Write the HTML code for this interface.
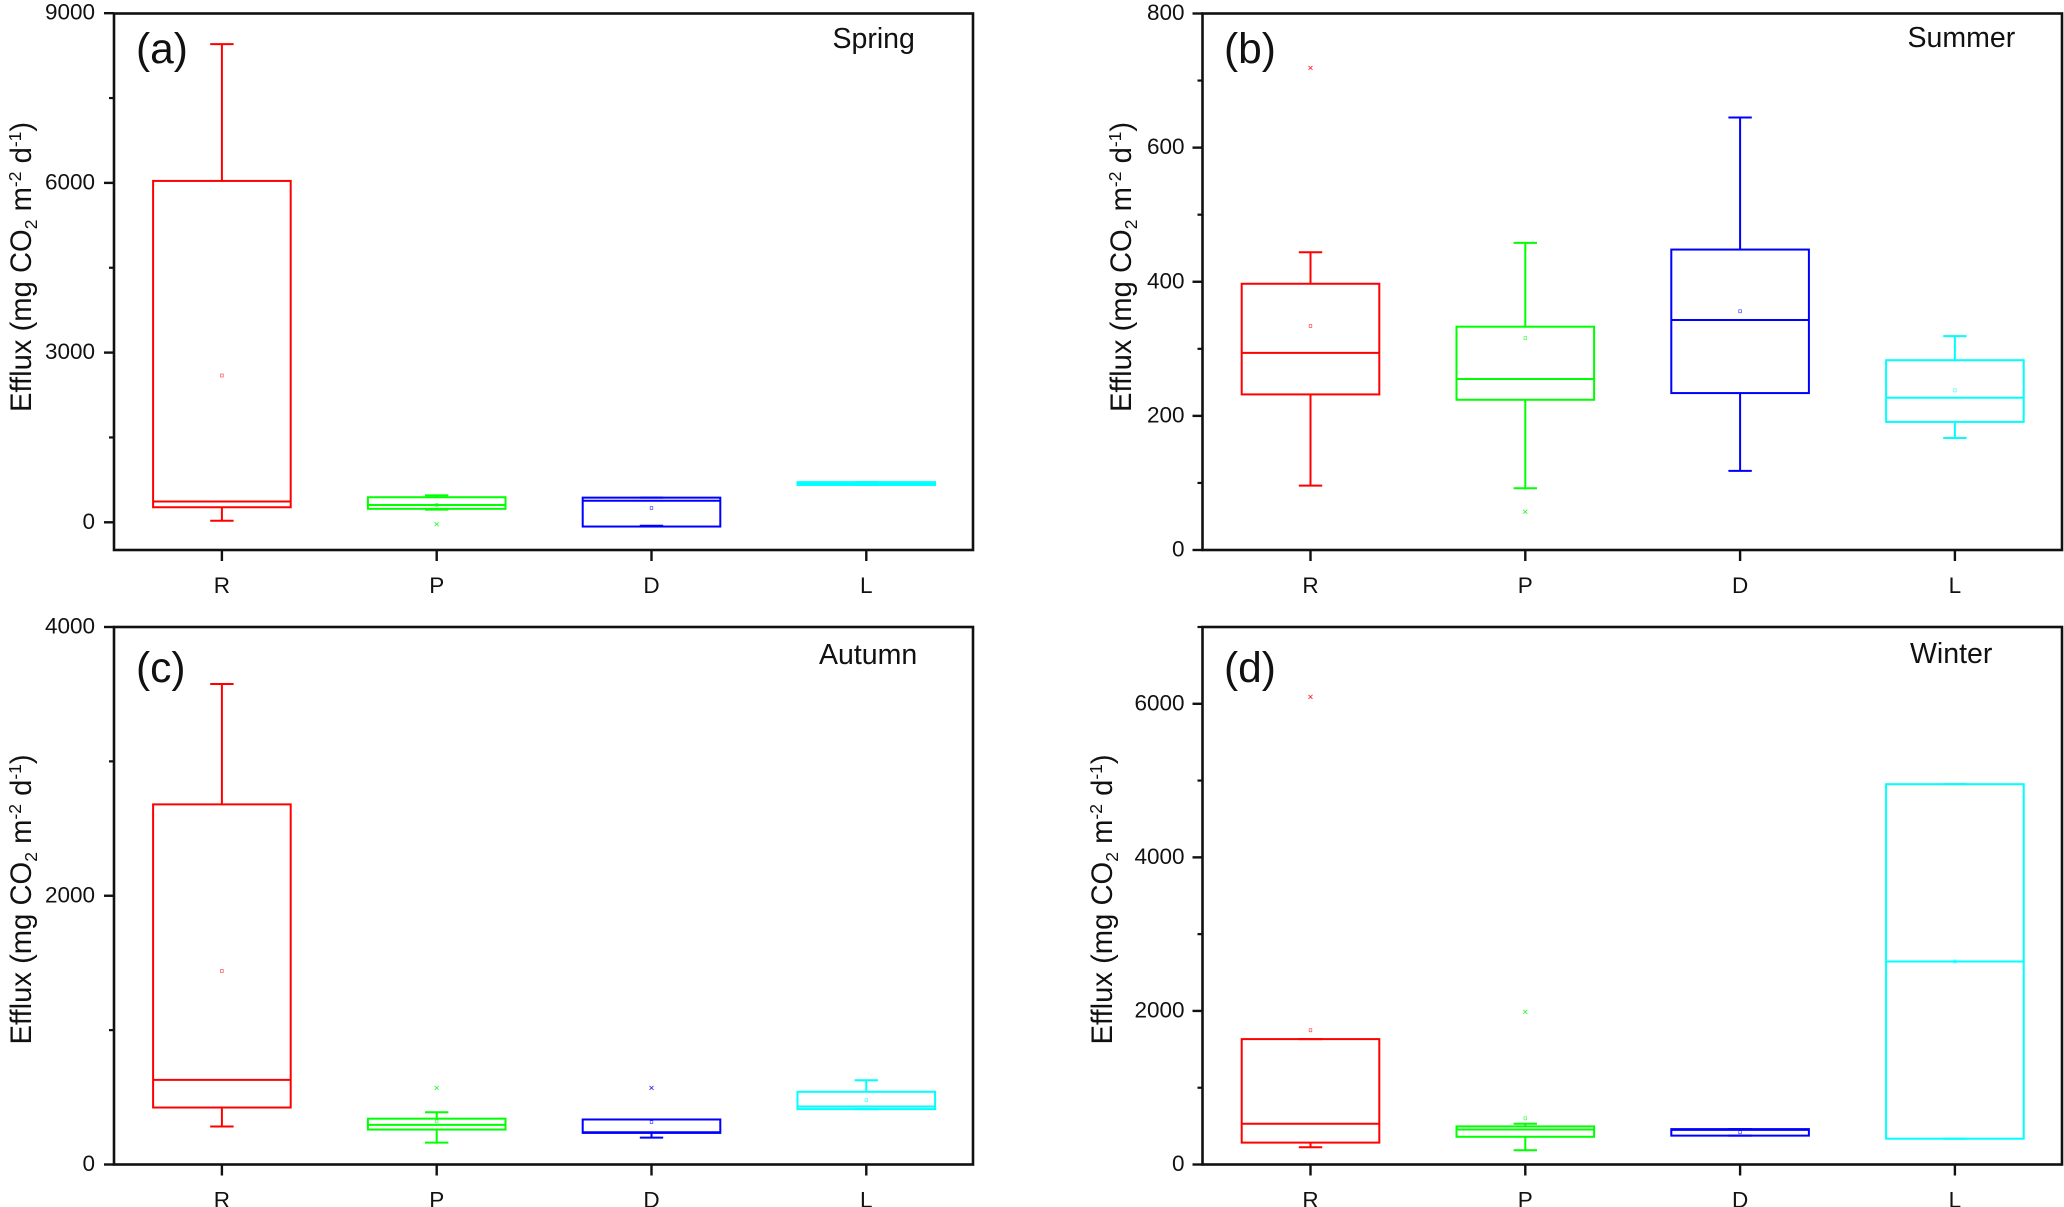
<!DOCTYPE html>
<html lang="en">
<head>
<meta charset="utf-8">
<title>Seasonal CO2 efflux box plots</title>
<style>
html,body{margin:0;padding:0;background:#fff;width:2064px;height:1207px;overflow:hidden}
svg{display:block;font-family:"Liberation Sans",Arial,sans-serif;fill:#111}
.ylab{font-size:29.2px}
.sm{font-size:17.5px}
.season{font-size:28.5px}
.letter{font-size:42.5px}
</style>
</head>
<body>
<svg id="chart" xmlns="http://www.w3.org/2000/svg" width="2064" height="1207" viewBox="0 0 2064 1207">
  <rect x="0" y="0" width="2064" height="1207" fill="#fff"/>

  <text class="letter" x="136" y="63">(a)</text>
  <text class="letter" x="1224" y="63">(b)</text>
  <text class="letter" x="136" y="682">(c)</text>
  <text class="letter" x="1224" y="682">(d)</text>

  <text class="season" x="832.5" y="48">Spring</text>
  <text class="season" x="1907.5" y="47">Summer</text>
  <text class="season" x="819" y="664">Autumn</text>
  <text class="season" x="1910" y="663">Winter</text>

  <text class="ylab" transform="translate(31,412) rotate(-90)">Efflux (mg CO<tspan class="sm" dy="6">2</tspan><tspan dy="-6"> m</tspan><tspan class="sm" dy="-10">-2</tspan><tspan dy="10"> d</tspan><tspan class="sm" dy="-10">-1</tspan><tspan dy="10">)</tspan></text>
  <text class="ylab" transform="translate(1131,412) rotate(-90)">Efflux (mg CO<tspan class="sm" dy="6">2</tspan><tspan dy="-6"> m</tspan><tspan class="sm" dy="-10">-2</tspan><tspan dy="10"> d</tspan><tspan class="sm" dy="-10">-1</tspan><tspan dy="10">)</tspan></text>
  <text class="ylab" transform="translate(31,1044.5) rotate(-90)">Efflux (mg CO<tspan class="sm" dy="6">2</tspan><tspan dy="-6"> m</tspan><tspan class="sm" dy="-10">-2</tspan><tspan dy="10"> d</tspan><tspan class="sm" dy="-10">-1</tspan><tspan dy="10">)</tspan></text>
  <text class="ylab" transform="translate(1112,1044.5) rotate(-90)">Efflux (mg CO<tspan class="sm" dy="6">2</tspan><tspan dy="-6"> m</tspan><tspan class="sm" dy="-10">-2</tspan><tspan dy="10"> d</tspan><tspan class="sm" dy="-10">-1</tspan><tspan dy="10">)</tspan></text>
</svg>

<script>
// Shared category labels
const categories = ['R', 'P', 'D', 'L'];

// Spring (a)
const springTicks = [0, 3000, 6000, 9000];
const springMinor = [1500, 4500, 7500];
const springHigh = [8454, 477, 436, 710];
const springQ3 = [6035, 443, 436, 710];
const springMedian = [368, 306, 381, 685];
const springQ1 = [266, 238, -75, 660];
const springLow = [27, 225, -61, 660];
const springMean = [2595, 306, 252, 685];
const springOutliers = [[], [-34], [], []];

// Summer (b)
const summerTicks = [0, 200, 400, 600, 800];
const summerMinor = [100, 300, 500, 700];
const summerHigh = [444, 458, 645, 319];
const summerQ3 = [397, 333, 448, 283];
const summerMedian = [294, 255, 343, 227];
const summerQ1 = [232, 224, 234, 191];
const summerLow = [96, 92, 118, 167];
const summerMean = [334, 316, 356, 238];
const summerOutliers = [[719], [57], [], []];

// Autumn (c)
const autumnTicks = [0, 2000, 4000];
const autumnMinor = [1000, 3000];
const autumnHigh = [3576, 389, 335, 627];
const autumnQ3 = [2680, 341, 335, 541];
const autumnMedian = [630, 295, 240, 432];
const autumnQ1 = [424, 260, 235, 412];
const autumnLow = [283, 163, 200, 412];
const autumnMean = [1440, 321, 315, 478];
const autumnOutliers = [[], [570], [570], []];

// Winter (d)
const winterTicks = [0, 2000, 4000, 6000];
const winterMinor = [1000, 3000, 5000, 7000];
const winterHigh = [1633, 531, 461, 4953];
const winterQ3 = [1633, 496, 461, 4953];
const winterMedian = [531, 456, 451, 2644];
const winterQ1 = [285, 361, 376, 336];
const winterLow = [225, 185, 376, 336];
const winterMean = [1748, 601, 421, 2644];
const winterOutliers = [[6090], [1988], [], []];

const seriesColors = ['#ff0000', '#00ff00', '#0000ff', '#00ffff'];
const NS = 'http://www.w3.org/2000/svg';
const chart = document.getElementById('chart');

function node(tag, attrs, parent) {
  const el = document.createElementNS(NS, tag);
  for (const k in attrs) el.setAttribute(k, attrs[k]);
  parent.appendChild(el);
  return el;
}

function line(x1, y1, x2, y2, stroke, width, name, parent) {
  const el = node('line', { x1: x1, y1: y1, x2: x2, y2: y2, stroke: stroke, 'stroke-width': width }, parent);
  
  
  return el;
}

function drawPanel(p) {
  const g = node('g', {}, chart);
  
  

  const yScale = function (v) {
    return p.y0 + (v - p.refLow) * (p.y1 - p.y0) / (p.refHigh - p.refLow);
  };
  const xScale = function (i) {
    return p.xFirst + i * p.xStep;
  };

  // frame
  const frame = node('rect', {
    x: p.left, y: p.top, width: p.right - p.left, height: p.bottom - p.top,
    fill: 'none', stroke: '#111', 'stroke-width': 2.6
  }, g);
  
  

  // y ticks
  p.ticks.forEach(function (v) {
    const y = yScale(v);
    line(p.left - 10, y, p.left, y, '#111', 2.4, 'y-major-tick', g);
    const t = node('text', { x: p.left - p.labelGap, y: y + 6.5, 'text-anchor': 'end', 'font-size': 22.5 }, g);
    
    
    t.textContent = String(v);
  });
  p.minor.forEach(function (v) {
    const y = yScale(v);
    line(p.left - 5, y, p.left, y, '#111', 2.2, 'y-minor-tick', g);
  });

  // categories
  categories.forEach(function (c, i) {
    const x = xScale(i);
    const color = seriesColors[i];
    line(x, p.bottom, x, p.bottom + 11, '#111', 2.4, 'x-tick', g);
    const t = node('text', { x: x, y: p.bottom + 43, 'text-anchor': 'middle', 'font-size': 22.5 }, g);
    
    
    t.textContent = c;

    const series = node('g', {}, g);
    
    

    const yHigh = yScale(p.high[i]);
    const yQ3 = yScale(p.q3[i]);
    const yMed = yScale(p.median[i]);
    const yQ1 = yScale(p.q1[i]);
    const yLow = yScale(p.low[i]);

    line(x, yHigh, x, yQ3, color, 2, 'upper-whisker', series);
    line(x, yQ1, x, yLow, color, 2, 'lower-whisker', series);
    line(x - 11.7, yHigh, x + 11.7, yHigh, color, 2, 'upper-cap', series);
    line(x - 11.7, yLow, x + 11.7, yLow, color, 2, 'lower-cap', series);

    const box = node('rect', {
      x: x - 68.8, y: yQ3, width: 137.6, height: yQ1 - yQ3,
      fill: 'none', stroke: color, 'stroke-width': 2
    }, series);
    
    

    line(x - 68.8, yMed, x + 68.8, yMed, color, 2, 'median-line', series);

    const mean = node('rect', {
      x: x - 1.3, y: yScale(p.mean[i]) - 1.5, width: 2.6, height: 3,
      fill: 'none', stroke: color, 'stroke-width': 0.7, opacity: 0.7
    }, series);
    
    

    p.outliers[i].forEach(function (v) {
      const y = yScale(v);
      line(x - 2, y - 2, x + 2, y + 2, color, 0.7, 'outlier-stroke-a', series);
      line(x - 2, y + 2, x + 2, y - 2, color, 0.7, 'outlier-stroke-b', series);
    });
  });
}

drawPanel({
  id: 'a', left: 114, right: 973, top: 13.5, bottom: 550,
  xFirst: 221.9, xStep: 214.8,
  refLow: 0, refHigh: 9000, y0: 522.3, y1: 13.2,
  labelGap: 19,
  ticks: springTicks, minor: springMinor,
  high: springHigh, q3: springQ3, median: springMedian, q1: springQ1, low: springLow,
  mean: springMean, outliers: springOutliers
});
drawPanel({
  id: 'b', left: 1202.5, right: 2062, top: 13.5, bottom: 550,
  xFirst: 1310.5, xStep: 214.8,
  refLow: 0, refHigh: 800, y0: 550, y1: 13.5,
  labelGap: 18,
  ticks: summerTicks, minor: summerMinor,
  high: summerHigh, q3: summerQ3, median: summerMedian, q1: summerQ1, low: summerLow,
  mean: summerMean, outliers: summerOutliers
});
drawPanel({
  id: 'c', left: 114, right: 973, top: 627, bottom: 1164.5,
  xFirst: 221.9, xStep: 214.8,
  refLow: 0, refHigh: 4000, y0: 1164.5, y1: 627,
  labelGap: 19,
  ticks: autumnTicks, minor: autumnMinor,
  high: autumnHigh, q3: autumnQ3, median: autumnMedian, q1: autumnQ1, low: autumnLow,
  mean: autumnMean, outliers: autumnOutliers
});
drawPanel({
  id: 'd', left: 1202.5, right: 2062, top: 627, bottom: 1164.5,
  xFirst: 1310.5, xStep: 214.8,
  refLow: 0, refHigh: 7000, y0: 1164.5, y1: 627,
  labelGap: 18,
  ticks: winterTicks, minor: winterMinor,
  high: winterHigh, q3: winterQ3, median: winterMedian, q1: winterQ1, low: winterLow,
  mean: winterMean, outliers: winterOutliers
});
</script>
</body>
</html>
